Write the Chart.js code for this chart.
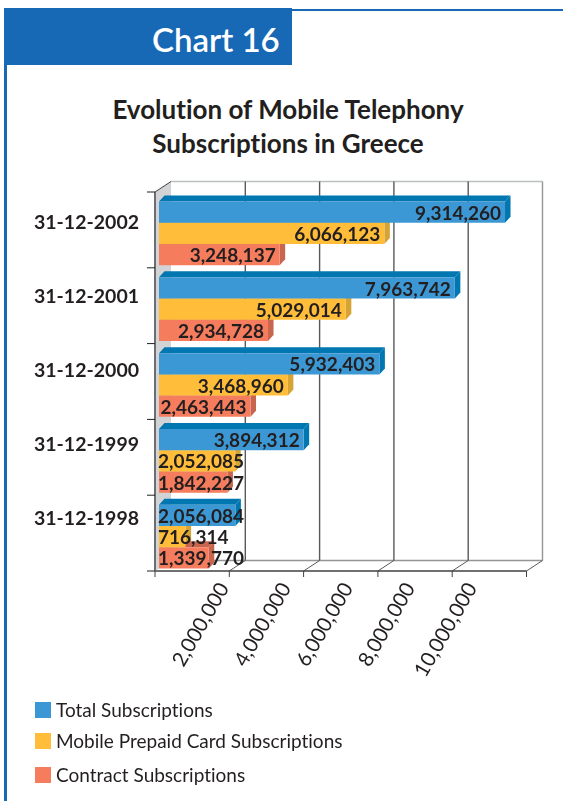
<!DOCTYPE html>
<html lang="en">
<head>
  <meta charset="UTF-8">
  <title>Chart 16</title>
  <style>
    html, body { margin: 0; padding: 0; background: #fff; }
    body { width: 563px; height: 801px; position: relative; overflow: hidden; font-family: Lato, sans-serif; color: #231f20; font-variant-ligatures: none; }
    #frameLeft { position: absolute; left: 4px; top: 10px; width: 2.5px; height: 791px; background: #1768b5; }
    #frameTop { position: absolute; left: 292px; top: 9px; width: 271px; height: 2px; background: #1768b5; }
    #badge { position: absolute; left: 4px; top: 8px; width: 288px; height: 57px; background: #1768b5; color: #fff; font-size: 33px; font-weight: 600; line-height: 63px; }
    #badge span { position: absolute; left: 148px; white-space: nowrap; }
    h1 { position: absolute; left: 0; top: 93px; width: 576px; margin: 0; text-align: center; font-size: 26px; font-weight: 700; line-height: 33.5px; }
    canvas { position: absolute; left: 0; top: 0; }
    #legend { position: absolute; left: 35px; top: 0; font-size: 19px; white-space: nowrap; }
    #legend div { position: absolute; left: 0; height: 16px; line-height: 16px; }
    #legend i { position: absolute; left: 0; top: 0; width: 16px; height: 16px; }
    #legend span { position: absolute; left: 21px; top: 0; }
  </style>
</head>
<body>
  <div id="frameLeft"></div>
  <div id="frameTop"></div>
  <div id="badge"><span>Chart 16</span></div>
  <h1>Evolution of Mobile Telephony<br>Subscriptions in Greece</h1>
  <canvas id="subsChart" width="563" height="801"></canvas>
  <div id="legend"></div>

  <script src="https://cdn.jsdelivr.net/npm/chart.js"></script>
  <script>
    const categories = ['31-12-2002', '31-12-2001', '31-12-2000', '31-12-1999', '31-12-1998'];
    const totalSubs = [9314260, 7963742, 5932403, 3894312, 2056084];
    const prepaidSubs = [6066123, 5029014, 3468960, 2052085, 716314];
    const contractSubs = [3248137, 2934728, 2463443, 1842227, 1339770];
    const seriesNames = ['Total Subscriptions', 'Mobile Prepaid Card Subscriptions', 'Contract Subscriptions'];
    const gridValues = [0, 2000000, 4000000, 6000000, 8000000, 10000000];

    const fronts = ['#3c98d4', '#ffbd3a', '#f57c5c'];
    const sides = ['#0077b0', '#d6a434', '#c8654e'];
    const ink = '#231f20';

    // the bars sit a little in front of the drawn floor and wall
    const shiftX = -4, shiftY = -3.5;
    const wallX = 16, wallY = -10.5;
    const barDX = 5.5, barDY = -6;

    function poly(ctx, pts, fill) {
      ctx.beginPath();
      pts.forEach((p, i) => i ? ctx.lineTo(p[0], p[1]) : ctx.moveTo(p[0], p[1]));
      ctx.closePath();
      ctx.fillStyle = fill;
      ctx.fill();
    }

    function line(ctx, x1, y1, x2, y2, color, width) {
      ctx.beginPath();
      ctx.moveTo(x1, y1);
      ctx.lineTo(x2, y2);
      ctx.strokeStyle = color;
      ctx.lineWidth = width;
      ctx.stroke();
    }

    // box walls, gridlines, then side and top faces of the bars
    const boxPlugin = {
      id: 'box',
      beforeDatasetsDraw(chart) {
        const ctx = chart.ctx;
        const sx = chart.scales.x, a = chart.chartArea;
        const top = a.top + shiftY, bottom = a.bottom + shiftY;
        const left = sx.getPixelForValue(0) + shiftX;
        const right = sx.getPixelForValue(10000000) + shiftX;
        ctx.save();
        poly(ctx, [[left, top], [left + wallX, top + wallY], [left + wallX, bottom + wallY], [left, bottom]], '#d1d3d4');
        line(ctx, left + wallX, top + wallY, right + wallX, top + wallY, '#bcbec0', 1.5);
        line(ctx, left + wallX, bottom + wallY, right + wallX, bottom + wallY, '#939598', 1.5);
        gridValues.forEach((v, i) => {
          const x = sx.getPixelForValue(v) + shiftX;
          if (i) {
            line(ctx, x + wallX, top + wallY, x + wallX, bottom + wallY, i === 5 ? '#939598' : '#58595b', 1.4);
            line(ctx, x, bottom, x + wallX, bottom + wallY, '#58595b', 1);
          }
          line(ctx, x, bottom, x, bottom + 6, '#414042', 1);
        });
        line(ctx, left, bottom, right, bottom, '#414042', 1.5);
        line(ctx, left, top, left + wallX, top + wallY, '#414042', 1);
        line(ctx, left, top, left, bottom, '#6d6e71', 2);
        const step = (bottom - top) / categories.length;
        categories.concat('').forEach((c, i) => {
          line(ctx, left - 8, top + step * i, left, top + step * i, '#231f20', 1);
        });
        chart.data.datasets.forEach((ds, d) => {
          chart.getDatasetMeta(d).data.forEach(bar => {
            const h = bar.height / 2;
            poly(ctx, [[bar.base, bar.y - h], [bar.base + barDX, bar.y - h + barDY], [bar.x + barDX, bar.y - h + barDY], [bar.x, bar.y - h]], sides[d]);
            poly(ctx, [[bar.x, bar.y - h], [bar.x + barDX, bar.y - h + barDY], [bar.x + barDX, bar.y + h + barDY], [bar.x, bar.y + h]], sides[d]);
          });
        });
        ctx.restore();
      },
      afterDatasetsDraw(chart) {
        // value labels sit at the bar end, but never start before the base
        const ctx = chart.ctx;
        ctx.save();
        ctx.font = '700 19px Lato, sans-serif';
        ctx.fillStyle = ink;
        ctx.textBaseline = 'middle';
        ctx.textAlign = 'left';
        chart.data.datasets.forEach((ds, d) => {
          chart.getDatasetMeta(d).data.forEach((bar, i) => {
            const text = ds.data[i].toLocaleString('en-US');
            const w = ctx.measureText(text).width;
            ctx.fillText(text, Math.max(bar.x - 4 - w, bar.base - 1), bar.y + 1.5);
          });
        });
        ctx.restore();
      }
    };

    new Chart(document.getElementById('subsChart'), {
      type: 'bar',
      data: {
        labels: categories,
        datasets: [totalSubs, prepaidSubs, contractSubs].map((values, i) => ({
          label: seriesNames[i],
          data: values,
          backgroundColor: fronts[i],
          borderWidth: 0,
          xAxisID: 'x',
          yAxisID: 'y',
          categoryPercentage: 0.84,
          barPercentage: 1
        }))
      },
      options: {
        indexAxis: 'y',
        responsive: false,
        animation: false,
        layout: { padding: { top: 195.5, right: 32.5, left: 0, bottom: 0 } },
        plugins: { legend: { display: false }, tooltip: { enabled: false } },
        scales: {
          x: { display: false, min: 0, max: 10000000 },
          y: { display: false, offset: true },
          // the printed tick labels run tighter than the gridlines, so they get their own axes
          xLabels: {
            position: 'bottom',
            type: 'linear',
            min: -225806,
            max: 11758000,
            grid: { display: false, drawTicks: false },
            border: { display: false },
            afterBuildTicks: s => { s.ticks = gridValues.slice(1).map(v => ({ value: v })); },
            afterFit: s => { s.height = 226.5; s.paddingLeft = 0; s.paddingRight = 0; },
            ticks: {
              autoSkip: false,
              minRotation: 60,
              maxRotation: 60,
              padding: 4,
              labelOffset: -4,
              color: ink,
              font: { family: 'Lato, sans-serif', size: 20.5, weight: 400 },
              callback: v => v.toLocaleString('en-US')
            }
          },
          yLabels: {
            position: 'left',
            type: 'linear',
            reverse: true,
            offset: false,
            min: -0.372,
            max: 4.75,
            grid: { display: false, drawTicks: false },
            border: { display: false },
            afterBuildTicks: s => { s.ticks = categories.map((c, i) => ({ value: i })); },
            afterFit: s => { s.width = 159; s.paddingTop = 0; s.paddingBottom = 0; },
            ticks: {
              autoSkip: false,
              padding: 20,
              color: ink,
              font: { family: 'Lato, sans-serif', size: 19.5, weight: 700 },
              callback: v => categories[v]
            }
          }
        }
      },
      plugins: [boxPlugin]
    });

    // legend rows are not evenly spaced in the original
    const legendTops = [702, 733, 767];
    seriesNames.forEach((name, i) => {
      const row = document.createElement('div');
      row.style.top = legendTops[i] + 'px';
      row.innerHTML = '<i style="background:' + fronts[i] + '"></i><span>' + name + '</span>';
      document.getElementById('legend').appendChild(row);
    });
  </script>
</body>
</html>
